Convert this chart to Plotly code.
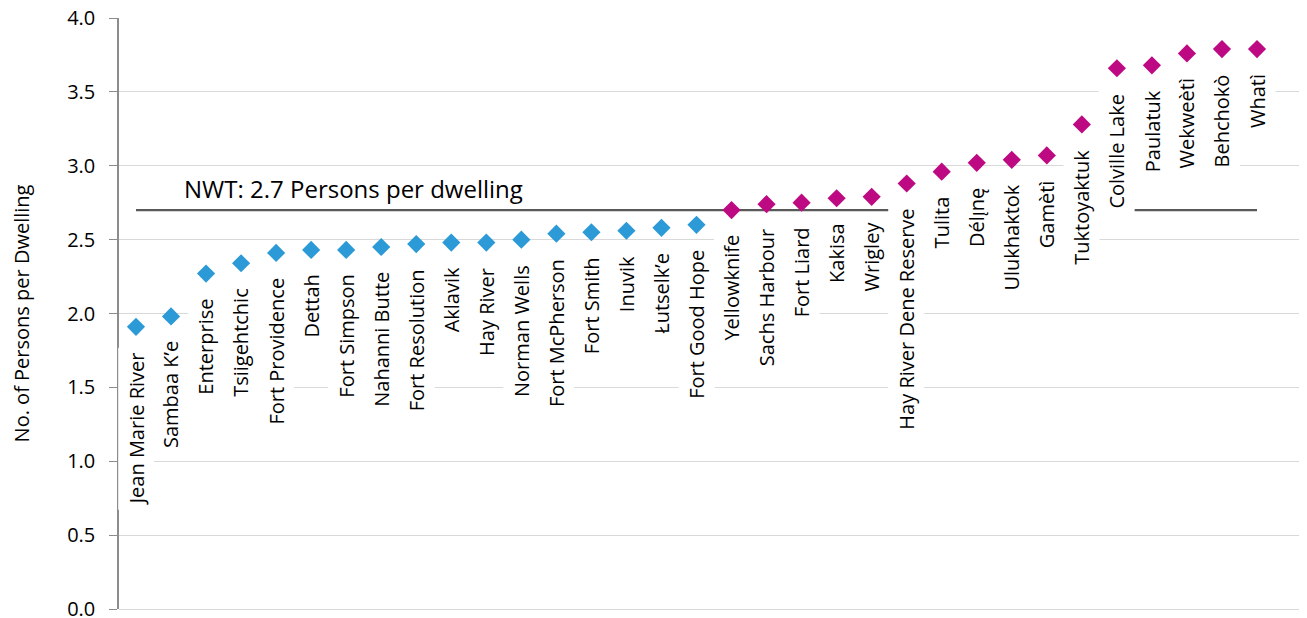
import plotly.graph_objects as go

communities = [
    "Jean Marie River", "Sambaa K’e", "Enterprise", "Tsiigehtchic", "Fort Providence",
    "Dettah", "Fort Simpson", "Nahanni Butte", "Fort Resolution", "Aklavik",
    "Hay River", "Norman Wells", "Fort McPherson", "Fort Smith", "Inuvik",
    "Łutselk’e", "Fort Good Hope", "Yellowknife", "Sachs Harbour", "Fort Liard",
    "Kakisa", "Wrigley", "Hay River Dene Reserve", "Tulita", "Délı̨nę",
    "Ulukhaktok", "Gamètì", "Tuktoyaktuk", "Colville Lake", "Paulatuk",
    "Wekweètì", "Behchokò", "Whatì",
]
persons = [
    1.91, 1.98, 2.27, 2.34, 2.41,
    2.43, 2.43, 2.45, 2.47, 2.48,
    2.48, 2.50, 2.54, 2.55, 2.56,
    2.58, 2.60, 2.70, 2.74, 2.75,
    2.78, 2.79, 2.88, 2.96, 3.02,
    3.04, 3.07, 3.28, 3.66, 3.68,
    3.76, 3.79, 3.79,
]
nwt_avg = 2.7
nwt_label = "NWT: 2.7 Persons per dwelling"
y_ticks = [0.0, 0.5, 1.0, 1.5, 2.0, 2.5, 3.0, 3.5, 4.0]

BLUE = "#2B9AD6"
MAGENTA = "#BE0A82"
FONT = "Open Sans"

n = len(communities)
xs = list(range(n))
colors = [BLUE if v < nwt_avg else MAGENTA for v in persons]

fig = go.Figure()
fig.add_trace(go.Scatter(
    x=xs, y=persons, mode="markers",
    marker=dict(symbol="diamond", size=14, color=colors, line=dict(width=0)),
    showlegend=False, hoverinfo="text", text=communities, cliponaxis=False,
))

# NWT average line
fig.add_shape(type="line", xref="x", yref="y", x0=xs[0], x1=xs[-1],
              y0=nwt_avg, y1=nwt_avg, line=dict(color="#595959", width=2.2),
              layer="below")
fig.add_annotation(x=1.3, y=nwt_avg, xref="x", yref="y",
                   text=nwt_label, showarrow=False, xanchor="left", yanchor="bottom",
                   yshift=3, font=dict(family=FONT, size=24, color="#000000"))

for x, v, name in zip(xs, persons, communities):
    fig.add_annotation(x=x, y=v, xref="x", yref="y", text=name, showarrow=False,
                       textangle=-90, xanchor="center", yanchor="top", yshift=-20,
                       bgcolor="white", borderpad=4,
                       font=dict(family=FONT, size=20, color="#000000"))

fig.update_layout(
    width=1299, height=610,
    margin=dict(l=111, r=2, t=10, b=9, autoexpand=False),
    paper_bgcolor="white", plot_bgcolor="white",
    font=dict(family=FONT, color="#000000"),
    xaxis=dict(range=[-0.485, 33.37], showgrid=False, zeroline=False,
               showticklabels=False, showline=False, ticks="", automargin=False),
    yaxis=dict(range=[0, 4.0], tickvals=y_ticks, automargin=False,
               ticktext=[f"{t:.1f}" for t in y_ticks],
               showgrid=True, gridcolor="#D9D9D9", gridwidth=1.3,
               zeroline=True, zerolinecolor="#D9D9D9", zerolinewidth=1.3,
               showline=True, linecolor="#8C8C8C", linewidth=1.5,
               ticks="outside", ticklen=8, tickcolor="#8C8C8C", tickwidth=1.3,
               ticklabelstandoff=10, ticklabeloverflow="allow",
               tickfont=dict(family=FONT, size=20, color="#000000"),
               title=dict(text="No. of Persons per Dwelling", standoff=34,
                          font=dict(family=FONT, size=20, color="#000000"))),
)

fig.write_html("out.html")
